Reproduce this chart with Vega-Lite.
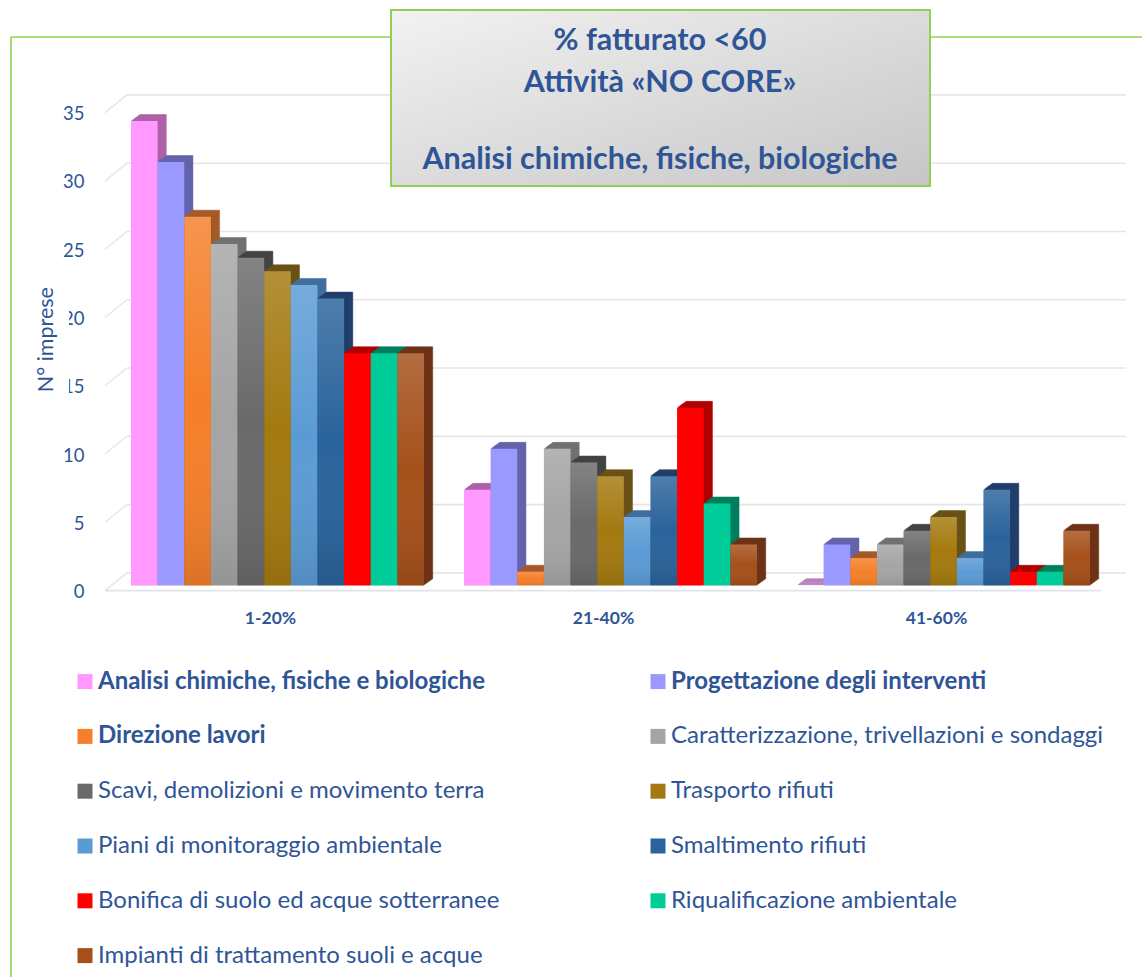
{
  "$schema": "https://vega.github.io/schema/vega-lite/v6.json",
  "autosize": "none",
  "padding": {"left": 111, "top": 112.6, "right": 32, "bottom": 386.4},
  "width": 999,
  "height": 478,
  "background": "white",
  "config": {"view": {"stroke": null}, "font": "Lato"},
  "datasets": {
    "imprese": [
      {"fascia": "1-20%", "attivita": "Analisi chimiche, fisiche e biologiche", "n": 34},
      {"fascia": "1-20%", "attivita": "Progettazione degli interventi", "n": 31},
      {"fascia": "1-20%", "attivita": "Direzione lavori", "n": 27},
      {"fascia": "1-20%", "attivita": "Caratterizzazione, trivellazioni e sondaggi", "n": 25},
      {"fascia": "1-20%", "attivita": "Scavi, demolizioni e movimento terra", "n": 24},
      {"fascia": "1-20%", "attivita": "Trasporto rifiuti", "n": 23},
      {"fascia": "1-20%", "attivita": "Piani di monitoraggio ambientale", "n": 22},
      {"fascia": "1-20%", "attivita": "Smaltimento rifiuti", "n": 21},
      {"fascia": "1-20%", "attivita": "Bonifica di suolo ed acque sotterranee", "n": 17},
      {"fascia": "1-20%", "attivita": "Riqualificazione ambientale", "n": 17},
      {"fascia": "1-20%", "attivita": "Impianti di trattamento suoli e acque", "n": 17},
      {"fascia": "21-40%", "attivita": "Analisi chimiche, fisiche e biologiche", "n": 7},
      {"fascia": "21-40%", "attivita": "Progettazione degli interventi", "n": 10},
      {"fascia": "21-40%", "attivita": "Direzione lavori", "n": 1},
      {"fascia": "21-40%", "attivita": "Caratterizzazione, trivellazioni e sondaggi", "n": 10},
      {"fascia": "21-40%", "attivita": "Scavi, demolizioni e movimento terra", "n": 9},
      {"fascia": "21-40%", "attivita": "Trasporto rifiuti", "n": 8},
      {"fascia": "21-40%", "attivita": "Piani di monitoraggio ambientale", "n": 5},
      {"fascia": "21-40%", "attivita": "Smaltimento rifiuti", "n": 8},
      {"fascia": "21-40%", "attivita": "Bonifica di suolo ed acque sotterranee", "n": 13},
      {"fascia": "21-40%", "attivita": "Riqualificazione ambientale", "n": 6},
      {"fascia": "21-40%", "attivita": "Impianti di trattamento suoli e acque", "n": 3},
      {"fascia": "41-60%", "attivita": "Analisi chimiche, fisiche e biologiche", "n": 0},
      {"fascia": "41-60%", "attivita": "Progettazione degli interventi", "n": 3},
      {"fascia": "41-60%", "attivita": "Direzione lavori", "n": 2},
      {"fascia": "41-60%", "attivita": "Caratterizzazione, trivellazioni e sondaggi", "n": 3},
      {"fascia": "41-60%", "attivita": "Scavi, demolizioni e movimento terra", "n": 4},
      {"fascia": "41-60%", "attivita": "Trasporto rifiuti", "n": 5},
      {"fascia": "41-60%", "attivita": "Piani di monitoraggio ambientale", "n": 2},
      {"fascia": "41-60%", "attivita": "Smaltimento rifiuti", "n": 7},
      {"fascia": "41-60%", "attivita": "Bonifica di suolo ed acque sotterranee", "n": 1},
      {"fascia": "41-60%", "attivita": "Riqualificazione ambientale", "n": 1},
      {"fascia": "41-60%", "attivita": "Impianti di trattamento suoli e acque", "n": 4}
    ],
    "tacche": [{"t": 0}, {"t": 5}, {"t": 10}, {"t": 15}, {"t": 20}, {"t": 25}, {"t": 30}, {"t": 35}]
  },
  "resolve": {"scale": {"x": "independent", "xOffset": "independent", "fill": "independent", "stroke": "independent"}},
  "layer": [
    {
      "data": {"name": "tacche"},
      "encoding": {
        "y": {"field": "t", "type": "quantitative", "scale": {"domain": [0, 35], "nice": false},
          "axis": {"title": null, "values": [0, 5, 10, 15, 20, 25, 30, 35], "grid": false, "domain": false, "ticks": false, "labelPadding": 27, "labelOffset": 1, "labelColor": "#2f5597", "labelFont": "Lato", "labelFontSize": 18.5}}
      },
      "layer": [
        {"mark": {"type": "rule", "color": "#e6e6e6", "strokeWidth": 1.6, "yOffset": -17.7}, "encoding": {"x": {"value": 16}, "x2": {"value": 1015}}},
        {"mark": {"type": "rule", "color": "#e6e6e6", "strokeWidth": 1.4, "y2Offset": -17.7}, "encoding": {"x": {"value": -6}, "x2": {"value": 16}, "y2": {"field": "t"}}}
      ]
    },
    {
      "data": {"values": [{"t": 0}]},
      "mark": {"type": "rule", "color": "#e2e4ea", "strokeWidth": 1.8},
      "encoding": {"x": {"value": -6}, "x2": {"value": 990}, "y": {"field": "t", "type": "quantitative"}}
    },
    {
      "data": {"name": "imprese"},
      "resolve": {"scale": {"x": "independent", "xOffset": "independent"}},
      "encoding": {
        "xOffset": {"field": "attivita", "type": "nominal", "sort": null, "scale": {"paddingInner": 0, "paddingOuter": 0.75}},
        "y": {"field": "n", "type": "quantitative", "stack": null},
        "y2": {"datum": 0},
        "fill": {"field": "attivita", "type": "nominal", "legend": null, "sort": null, "scale": {"domain": ["Analisi chimiche, fisiche e biologiche", "Progettazione degli interventi", "Direzione lavori", "Caratterizzazione, trivellazioni e sondaggi", "Scavi, demolizioni e movimento terra", "Trasporto rifiuti", "Piani di monitoraggio ambientale", "Smaltimento rifiuti", "Bonifica di suolo ed acque sotterranee", "Riqualificazione ambientale", "Impianti di trattamento suoli e acque"], "range": ["#ad62a8", "#6464ac", "#a65a2a", "#727272", "#444444", "#6b5218", "#41709f", "#223f6b", "#b00000", "#007f5f", "#6e3418"]}},
        "stroke": {"field": "attivita", "type": "nominal", "legend": null, "sort": null, "scale": {"domain": ["Analisi chimiche, fisiche e biologiche", "Progettazione degli interventi", "Direzione lavori", "Caratterizzazione, trivellazioni e sondaggi", "Scavi, demolizioni e movimento terra", "Trasporto rifiuti", "Piani di monitoraggio ambientale", "Smaltimento rifiuti", "Bonifica di suolo ed acque sotterranee", "Riqualificazione ambientale", "Impianti di trattamento suoli e acque"], "range": ["#ad62a8", "#6464ac", "#a65a2a", "#727272", "#444444", "#6b5218", "#41709f", "#223f6b", "#b00000", "#007f5f", "#6e3418"]}}
      },
      "layer": [
        {"mark": {"type": "bar", "strokeWidth": 0.5, "yOffset": -11.7, "y2Offset": -11.7}, "encoding": {"x": {"field": "fascia", "type": "nominal", "axis": null, "scale": {"paddingInner": 0, "paddingOuter": 0, "range": [8.7, 1007.7]}}}},
        {"mark": {"type": "bar", "strokeWidth": 0.5, "yOffset": -10.9, "y2Offset": -10.9}, "encoding": {"x": {"field": "fascia", "type": "nominal", "axis": null, "scale": {"paddingInner": 0, "paddingOuter": 0, "range": [7.6, 1006.6]}}}},
        {"mark": {"type": "bar", "strokeWidth": 0.5, "yOffset": -10.1, "y2Offset": -10.1}, "encoding": {"x": {"field": "fascia", "type": "nominal", "axis": null, "scale": {"paddingInner": 0, "paddingOuter": 0, "range": [6.5, 1005.5]}}}},
        {"mark": {"type": "bar", "strokeWidth": 0.5, "yOffset": -9.3, "y2Offset": -9.3}, "encoding": {"x": {"field": "fascia", "type": "nominal", "axis": null, "scale": {"paddingInner": 0, "paddingOuter": 0, "range": [5.4, 1004.4]}}}},
        {"mark": {"type": "bar", "strokeWidth": 0.5, "yOffset": -8.5, "y2Offset": -8.5}, "encoding": {"x": {"field": "fascia", "type": "nominal", "axis": null, "scale": {"paddingInner": 0, "paddingOuter": 0, "range": [4.3, 1003.3]}}}},
        {"mark": {"type": "bar", "strokeWidth": 0.5, "yOffset": -7.7, "y2Offset": -7.7}, "encoding": {"x": {"field": "fascia", "type": "nominal", "axis": null, "scale": {"paddingInner": 0, "paddingOuter": 0, "range": [3.2, 1002.2]}}}},
        {"mark": {"type": "bar", "strokeWidth": 0.5, "yOffset": -6.9, "y2Offset": -6.9}, "encoding": {"x": {"field": "fascia", "type": "nominal", "axis": null, "scale": {"paddingInner": 0, "paddingOuter": 0, "range": [2.1, 1001.1]}}}},
        {"mark": {"type": "bar", "strokeWidth": 0.5, "yOffset": -6, "y2Offset": -6}, "encoding": {"x": {"field": "fascia", "type": "nominal", "axis": null, "scale": {"paddingInner": 0, "paddingOuter": 0, "range": [1, 1000]}}}}
      ]
    },
    {
      "data": {"name": "imprese"},
      "encoding": {
        "x": {"field": "fascia", "type": "nominal", "scale": {"paddingInner": 0, "paddingOuter": 0},
          "axis": {"title": null, "domain": false, "ticks": false, "labelAngle": 0, "labelOffset": -7, "labelPadding": 19, "labelColor": "#2f5597", "labelFont": "Lato", "labelFontWeight": "bold", "labelFontSize": 17.5}},
        "xOffset": {"field": "attivita", "type": "nominal", "sort": null, "scale": {"paddingInner": 0, "paddingOuter": 0.75}},
        "y": {"field": "n", "type": "quantitative", "stack": null},
        "y2": {"datum": 0}
      },
      "layer": [
        {
          "mark": {"type": "bar", "yOffset": -5.2, "y2Offset": -5.2},
          "encoding": {
            "fill": {
              "field": "attivita", "type": "nominal", "sort": null,
              "scale": {
                "domain": ["Analisi chimiche, fisiche e biologiche", "Progettazione degli interventi", "Direzione lavori", "Caratterizzazione, trivellazioni e sondaggi", "Scavi, demolizioni e movimento terra", "Trasporto rifiuti", "Piani di monitoraggio ambientale", "Smaltimento rifiuti", "Bonifica di suolo ed acque sotterranee", "Riqualificazione ambientale", "Impianti di trattamento suoli e acque"],
                "range": ["#ff99ff", "#9999ff", "#f57f2a", "#a5a5a5", "#6a6a6a", "#a47a10", "#5b9bd5", "#2a639b", "#ff0000", "#00cc99", "#a5501a"]
              },
              "legend": {
                "title": null, "orient": "none", "legendX": -38, "legendY": 557, "direction": "horizontal", "columns": 2,
                "symbolType": "square", "symbolSize": 225, "symbolStrokeWidth": 0, "labelOffset": 1, "labelLimit": 600,
                "labelFont": "Lato", "labelFontSize": 24, "labelColor": "#2f5597", "rowPadding": 30.8, "columnPadding": 146,
                "encoding": {
                  "labels": {"fontWeight": {"condition": {"test": "indexof(['Analisi chimiche, fisiche e biologiche','Progettazione degli interventi','Direzione lavori'], datum.value) >= 0", "value": "bold"}, "value": "normal"}},
                  "symbols": {"fill": {"value": {"expr": "{gradient: 'linear', x1: 0, y1: 0, x2: 0, y2: 1, stops: [{offset: 0, color: ['#ff99ff','#9999ff','#f4914f','#b2b2b2','#7c7c7c','#ab883c','#70a8e0','#4b77a8','#ff0000','#00cc99','#ab6236'][datum.index]}, {offset: 1, color: ['#ff99ff','#9999ff','#e0690f','#969696','#595959','#997000','#478bd0','#175390','#ff0000','#00cc99','#963c00'][datum.index]}]}"}}}
                }
              }
            }
          }
        },
        {
          "mark": {"type": "bar", "yOffset": -5.2, "y2Offset": -5.2, "fill": {"gradient": "linear", "x1": 0, "y1": 0, "x2": 0, "y2": 1, "stops": [{"offset": 0, "color": "rgba(255,255,255,0.17)"}, {"offset": 0.5, "color": "rgba(255,255,255,0)"}, {"offset": 1, "color": "rgba(0,0,0,0.1)"}]}},
          "encoding": {
            "fillOpacity": {"condition": {"test": "indexof(['Analisi chimiche, fisiche e biologiche','Progettazione degli interventi','Bonifica di suolo ed acque sotterranee','Riqualificazione ambientale'], datum.attivita) >= 0", "value": 0}, "value": 1}
          }
        }
      ]
    },
    {
      "data": {"values": [{"titolo": "N° imprese"}]},
      "layer": [
        {"mark": {"type": "rect", "fill": "white"}, "encoding": {"x": {"value": -75}, "x2": {"value": -42}, "y": {"value": 170}, "y2": {"value": 285}}},
        {"mark": {"type": "text", "angle": 270, "align": "center", "baseline": "middle", "font": "Lato", "fontSize": 21.5, "color": "#2f5597"}, "encoding": {"text": {"field": "titolo"}, "x": {"value": -64}, "y": {"value": 227}}}
      ]
    },
    {
      "data": {"values": [{"riga": ["% fatturato <60", "Attività «NO CORE»"], "nome": "Analisi chimiche, fisiche, biologiche"}]},
      "layer": [
        {"mark": {"type": "rule", "color": "#92d050", "strokeWidth": 1.6}, "encoding": {"x": {"value": -100}, "x2": {"value": 1040}, "y": {"value": -75.6}}},
        {"mark": {"type": "rule", "color": "#92d050", "strokeWidth": 1.6}, "encoding": {"x": {"value": -100}, "y": {"value": -75.6}, "y2": {"value": 870}}},
        {"mark": {"type": "rect", "stroke": "#92d050", "strokeWidth": 2, "fill": {"gradient": "linear", "x1": 0, "y1": 0, "x2": 1, "y2": 1, "stops": [{"offset": 0, "color": "#f2f2f2"}, {"offset": 1, "color": "#c6c6c6"}]}}, "encoding": {"x": {"value": 280}, "x2": {"value": 819}, "y": {"value": -102.6}, "y2": {"value": 73.4}}},
        {"mark": {"type": "text", "align": "center", "baseline": "alphabetic", "font": "Lato", "fontWeight": "bold", "fontSize": 30.5, "lineHeight": 42, "color": "#2f5597"}, "encoding": {"text": {"field": "riga"}, "x": {"value": 549}, "y": {"value": -62.5}}},
        {"mark": {"type": "text", "align": "center", "baseline": "alphabetic", "font": "Lato", "fontWeight": "bold", "fontSize": 30.5, "color": "#2f5597"}, "encoding": {"text": {"field": "nome"}, "x": {"value": 549}, "y": {"value": 56.5}}}
      ]
    }
  ]
}
